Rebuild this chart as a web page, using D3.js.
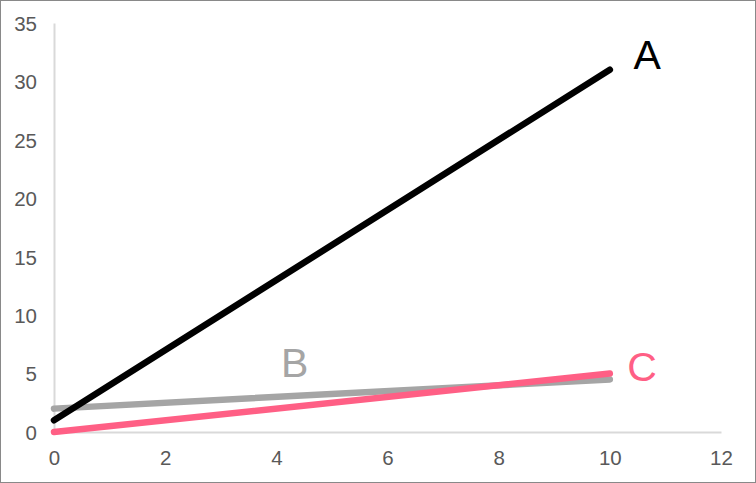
<!DOCTYPE html>
<html><head><meta charset="utf-8">
<script src="https://cdn.jsdelivr.net/npm/d3@7"></script>
<style>html,body{margin:0;padding:0;background:#fff}svg{display:block}</style>
</head><body>
<script>
const seriesNames = ["A", "B", "C"];
const seriesColors = ["#000000", "#a5a5a5", "#ff5f85"];
const xValues = [0, 10];
const valuesA = [1, 31];
const valuesB = [2, 4.5];
const valuesC = [0, 5];
const labelX = [10.67, 4.33, 10.58];
const labelY = [31.05, 4.7, 4.35];
const xTicks = [0, 2, 4, 6, 8, 10, 12];
const yTicks = [0, 5, 10, 15, 20, 25, 30, 35];

const W = 756, H = 483;
const svg = d3.select("body").append("svg").attr("width", W).attr("height", H);
svg.append("rect").attr("x", 0.5).attr("y", 0.5).attr("width", W - 1).attr("height", H - 1)
  .attr("fill", "#fff").attr("stroke", "#898989");

const x = d3.scaleLinear().domain([0, 12]).range([54, 721]);
const y = d3.scaleLinear().domain([0, 35]).range([432, 23]);

const font = "'Liberation Sans', Arial, sans-serif";

const yAxis = svg.append("g").attr("transform", `translate(${x(0)},0)`)
  .call(d3.axisLeft(y).tickValues(yTicks).tickSize(0).tickPadding(17));
const xAxis = svg.append("g").attr("transform", `translate(0,${y(0)})`)
  .call(d3.axisBottom(x).tickValues(xTicks).tickSize(0).tickPadding(18));
[yAxis, xAxis].forEach(g => {
  g.select(".domain").attr("stroke", "#d9d9d9").attr("stroke-width", 2);
  g.selectAll("text").attr("fill", "#595959").style("font-family", font).style("font-size", "20.5px");
});
yAxis.selectAll("text").attr("dy", "0.36em");
xAxis.selectAll("text").attr("dy", "0.72em");

const allSeries = [valuesA, valuesB, valuesC];
const line = d3.line().x((d, i) => x(xValues[i])).y(d => y(d));
const order = [1, 2, 0];
order.forEach(k => {
  svg.append("path").datum(allSeries[k]).attr("d", line)
    .attr("fill", "none").attr("stroke", seriesColors[k]).attr("stroke-width", 6.5)
    .attr("stroke-linecap", "round");
});

seriesNames.forEach((n, k) => {
  svg.append("text").attr("x", x(labelX[k])).attr("y", y(labelY[k]))
    .attr("text-anchor", "middle").attr("fill", seriesColors[k])
    .style("font-family", font).style("font-size", "41px").text(n);
});
</script>
</body></html>
